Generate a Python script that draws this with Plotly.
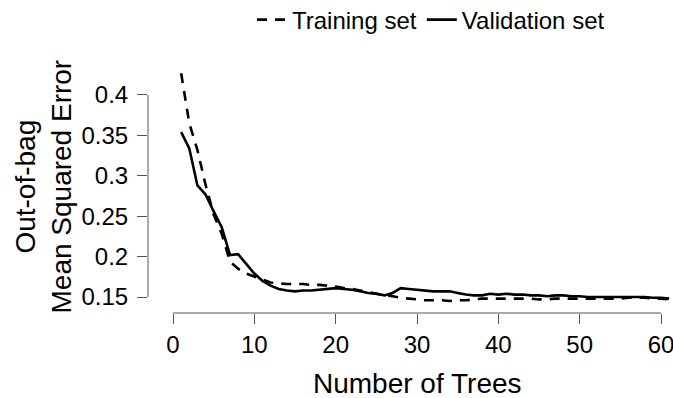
import plotly.graph_objects as go

trees = [1, 2, 3, 4, 5, 6, 7, 8, 9, 10, 11, 12, 13, 14, 15, 16, 17, 18, 19, 20,
         21, 22, 23, 24, 25, 26, 27, 28, 29, 30, 31, 32, 33, 34, 35, 36, 37, 38, 39, 40,
         41, 42, 43, 44, 45, 46, 47, 48, 49, 50, 51, 52, 53, 54, 55, 56, 57, 58, 59, 60, 61]

training_mse = [0.427, 0.365, 0.332, 0.289, 0.252, 0.228, 0.194, 0.185, 0.179, 0.175,
                0.171, 0.168, 0.167, 0.166, 0.166, 0.166, 0.165, 0.165, 0.164, 0.163,
                0.161, 0.160, 0.158, 0.156, 0.154, 0.152, 0.151, 0.149, 0.148, 0.147,
                0.146, 0.146, 0.146, 0.145, 0.146, 0.146, 0.147, 0.148, 0.148, 0.148,
                0.148, 0.148, 0.148, 0.148, 0.147, 0.147, 0.148, 0.148, 0.148, 0.148,
                0.148, 0.148, 0.148, 0.148, 0.148, 0.149, 0.149, 0.149, 0.148, 0.148, 0.147]

validation_mse = [0.354, 0.334, 0.288, 0.277, 0.256, 0.236, 0.202, 0.203, 0.191, 0.179,
                  0.170, 0.164, 0.160, 0.158, 0.157, 0.158, 0.158, 0.159, 0.160, 0.161,
                  0.160, 0.159, 0.157, 0.155, 0.154, 0.152, 0.155, 0.161, 0.160, 0.159,
                  0.158, 0.157, 0.157, 0.157, 0.155, 0.153, 0.152, 0.152, 0.154, 0.153,
                  0.154, 0.153, 0.153, 0.152, 0.152, 0.151, 0.152, 0.152, 0.151, 0.151,
                  0.150, 0.150, 0.150, 0.150, 0.150, 0.150, 0.150, 0.150, 0.149, 0.149, 0.148]

x_ticks = [0, 10, 20, 30, 40, 50, 60]
x_tick_labels = ["0", "10", "20", "30", "40", "50", "60"]
y_ticks = [0.15, 0.2, 0.25, 0.3, 0.35, 0.4]
y_tick_labels = ["0.15", "0.2", "0.25", "0.3", "0.35", "0.4"]

FONT = "Liberation Sans, Arial, sans-serif"
AXIS_COLOR = "#555555"

fig = go.Figure()
fig.add_trace(go.Scatter(x=trees, y=training_mse, mode="lines", name="Training set",
                         line=dict(color="black", width=2.6, dash="10px,8px")))
fig.add_trace(go.Scatter(x=trees, y=validation_mse, mode="lines", name="Validation set",
                         line=dict(color="black", width=2.6)))

fig.update_layout(
    width=673, height=398,
    margin=dict(l=148, r=0, t=60, b=85, autoexpand=False),
    paper_bgcolor="white", plot_bgcolor="white",
    font=dict(family=FONT, color="black"),
    showlegend=True,
    legend=dict(orientation="h", x=(252 - 148) / 525, xanchor="left",
                y=(313 - 20) / 253, yanchor="middle",
                font=dict(size=24, family=FONT), itemwidth=30,
                bgcolor="rgba(0,0,0,0)", tracegroupgap=0),
    xaxis=dict(range=[-3.074, 61.475], tickvals=x_ticks, ticktext=x_tick_labels,
               ticks="outside", ticklen=10,
               tickwidth=1, tickcolor=AXIS_COLOR, showline=False, showgrid=False,
               zeroline=False, automargin=False, ticklabeloverflow="allow",
               tickfont=dict(size=24, family=FONT)),
    yaxis=dict(range=[0.1302, 0.4433], tickvals=y_ticks, ticktext=y_tick_labels,
               ticks="outside", ticklen=10, tickwidth=1, tickcolor=AXIS_COLOR,
               showline=False, showgrid=False, zeroline=False, automargin=False,
               ticklabeloverflow="allow", ticklabelstandoff=4,
               tickfont=dict(size=24, family=FONT)),
)

# axis lines spanning first to last tick (R-style)
fig.add_shape(type="line", xref="x", yref="paper", x0=min(x_ticks), x1=max(x_ticks),
              y0=0, y1=0, line=dict(color=AXIS_COLOR, width=1))
fig.add_shape(type="line", xref="paper", yref="y", x0=0, x1=0,
              y0=min(y_ticks), y1=max(y_ticks), line=dict(color=AXIS_COLOR, width=1))

fig.add_annotation(text="Out-of-bag<br>Mean Squared Error", textangle=-90,
                   xref="paper", yref="paper", x=(43 - 148) / 525, y=0.5,
                   xanchor="center", yanchor="middle", showarrow=False,
                   font=dict(size=28, family=FONT))
fig.add_annotation(text="Number of Trees",
                   xref="x", yref="paper", x=(min(x_ticks) + max(x_ticks)) / 2,
                   y=(313 - 383) / 253, xanchor="center", yanchor="middle",
                   showarrow=False, font=dict(size=28, family=FONT))

# remove the default page margin so the figure sits at the window's top-left corner
post = ("document.body.style.margin='0';"
        "document.documentElement.style.overflow='hidden';"
        "document.body.style.overflow='hidden';")

fig.write_html("out.html", post_script=post,
               config={"displayModeBar": False, "staticPlot": True})
